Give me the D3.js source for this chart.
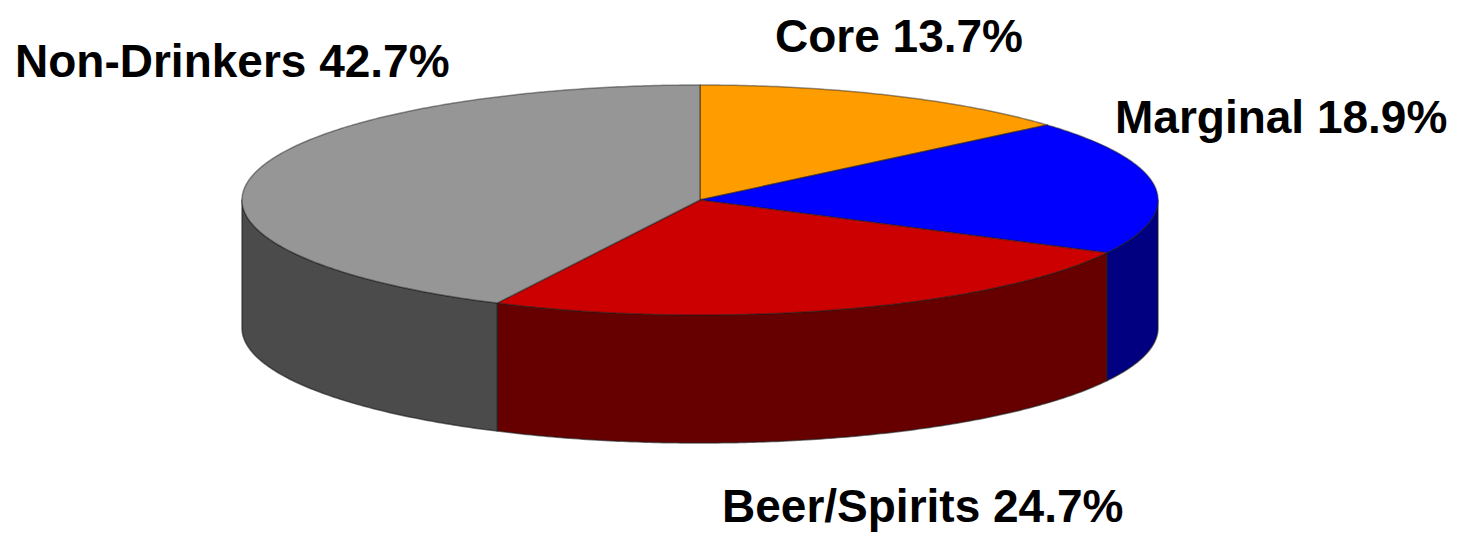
<!DOCTYPE html>
<html>
<head>
<meta charset="utf-8">
<script src="https://cdn.jsdelivr.net/npm/d3@7"></script>
<style>
  html, body { margin: 0; padding: 0; background: #ffffff; }
  svg { display: block; }
  text { font-family: "Liberation Sans", Arial, sans-serif; font-weight: bold; fill: #000; }
</style>
</head>
<body>
<svg id="chart" width="1458" height="533"></svg>
<script>
// Drinking population segments (percent of adults)
const categories = ["Core", "Marginal", "Beer/Spirits", "Non-Drinkers"];
const shares = [13.7, 18.9, 24.7, 42.7];
const topColors = ["#ff9c00", "#0000ff", "#cc0000", "#969696"];
const sideColors = ["#7f4e00", "#000080", "#660000", "#4b4b4b"];

// Label anchors (left x, baseline y)
const labelX = [775, 1115, 722, 15];
const labelY = [52, 133, 522, 77];

const cx = 700, cy = 200, rx = 458, ry = 115, depth = 128;

const svg = d3.select("#chart");

const pie = d3.pie().sort(null).value(d => d.value).startAngle(0).endAngle(2 * Math.PI);
const arcs = pie(categories.map((c, i) => ({ name: c, value: shares[i], i })));

const topColor = d3.scaleOrdinal().domain(categories).range(topColors);
const sideColor = d3.scaleOrdinal().domain(categories).range(sideColors);

// Projected point on the tilted disc: angle t clockwise from 12 o'clock
const pt = (t, dy = 0) => [cx + rx * Math.sin(t), cy - ry * Math.cos(t) + dy];

function sample(a, b, dy) {
  const n = Math.max(2, Math.ceil(Math.abs(b - a) / 0.01));
  return d3.range(n + 1).map(k => pt(a + (b - a) * k / n, dy));
}

const line = d3.line();

// Side walls: only the front half (3 o'clock through 9 o'clock) faces the viewer
const front0 = Math.PI / 2, front1 = 3 * Math.PI / 2;
const sides = svg.append("g");
arcs.forEach(d => {
  const a = Math.max(d.startAngle, front0), b = Math.min(d.endAngle, front1);
  if (b <= a) return;
  const pts = sample(a, b, 0).concat(sample(b, a, depth));
  sides.append("path")
    .attr("d", line(pts) + "Z")
    .attr("fill", sideColor(d.data.name))
    .attr("stroke", "#1a1a1a")
    .attr("stroke-opacity", 0.6)
    .attr("stroke-width", 1.5)
    .attr("stroke-linejoin", "round");
});

// Top faces
const tops = svg.append("g");
arcs.forEach(d => {
  const pts = [[cx, cy]].concat(sample(d.startAngle, d.endAngle, 0));
  tops.append("path")
    .attr("d", line(pts) + "Z")
    .attr("fill", topColor(d.data.name))
    .attr("stroke", "#1a1a1a")
    .attr("stroke-opacity", 0.45)
    .attr("stroke-width", 1.5)
    .attr("stroke-linejoin", "round");
});

// Segment labels
svg.append("g").selectAll("text")
  .data(arcs)
  .join("text")
  .attr("x", d => labelX[d.data.i])
  .attr("y", d => labelY[d.data.i])
  .attr("font-size", 46)
  .text(d => `${d.data.name} ${d3.format(".1f")(d.data.value)}%`);
</script>
</body>
</html>
